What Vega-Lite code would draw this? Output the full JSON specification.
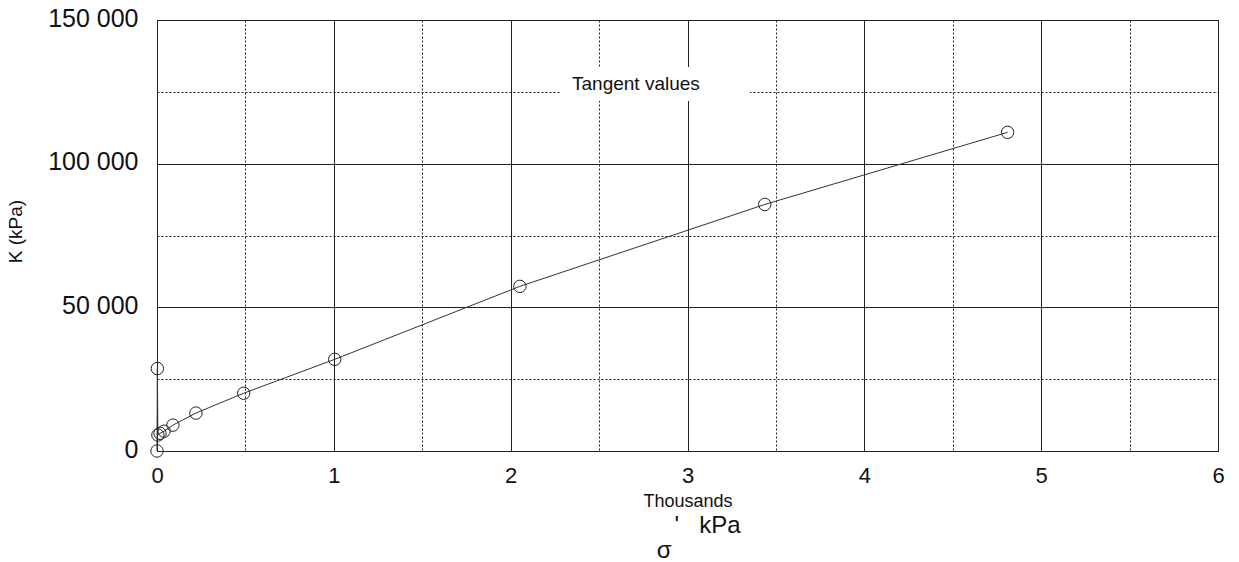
{
  "$schema": "https://vega.github.io/schema/vega-lite/v6.json",
  "width": 1061,
  "height": 431,
  "autosize": {"type": "none"},
  "padding": {"left": 157, "top": 20, "right": 21, "bottom": 111},
  "background": "white",
  "title": {
    "text": "\u200b\u00a0\u00a0\u00a0\u00a0\u00a0\u00a0'\u00a0\u00a0\u00a0kPa",
    "subtitle": "σ\u00a0\u00a0\u00a0\u00a0\u00a0\u00a0\u00a0\u200b",
    "orient": "bottom",
    "anchor": "middle",
    "frame": "group",
    "font": "Liberation Sans",
    "fontSize": 24,
    "fontWeight": "normal",
    "color": "#111",
    "subtitleFont": "Liberation Sans",
    "subtitleFontSize": 24,
    "subtitleColor": "#111",
    "subtitlePadding": 1,
    "offset": 4
  },
  "data": {
    "values": [
      {"i": 0, "s": 0.0, "k": 0},
      {"i": 1, "s": 0.002, "k": 28700},
      {"i": 2, "s": 0.005, "k": 5550},
      {"i": 3, "s": 0.017, "k": 6150},
      {"i": 4, "s": 0.04, "k": 6900},
      {"i": 5, "s": 0.09, "k": 9000},
      {"i": 6, "s": 0.22, "k": 13200},
      {"i": 7, "s": 0.49, "k": 20100},
      {"i": 8, "s": 1.005, "k": 31900},
      {"i": 9, "s": 2.052, "k": 57300},
      {"i": 10, "s": 3.437, "k": 85800},
      {"i": 11, "s": 4.81, "k": 110900}
    ]
  },
  "encoding": {
    "x": {
      "field": "s",
      "type": "quantitative",
      "scale": {"domain": [0, 6], "nice": false, "zero": false},
      "axis": {
        "title": "Thousands",
        "titleFont": "Liberation Sans",
        "titleFontSize": 18,
        "titleFontWeight": "normal",
        "titleColor": "#111",
        "titlePadding": 6,
        "values": [0, 0.5, 1, 1.5, 2, 2.5, 3, 3.5, 4, 4.5, 5, 5.5, 6],
        "labelExpr": "datum.value % 1 === 0 ? format(datum.value, 'd') : ''",
        "labelFont": "Liberation Sans",
        "labelFontSize": 22,
        "labelColor": "#111",
        "labelPadding": 14,
        "labelFlush": false,
        "labelOverlap": false,
        "ticks": false,
        "tickSize": 0,
        "domain": false,
        "grid": true,
        "gridColor": "#222",
        "gridOpacity": 1,
        "gridWidth": 1,
        "gridDash": {"condition": {"test": "datum.value % 1 !== 0", "value": [2, 2]}, "value": []}
      }
    },
    "y": {
      "field": "k",
      "type": "quantitative",
      "scale": {"domain": [0, 150000], "nice": false},
      "axis": {
        "title": "K (kPa)",
        "titleFont": "Liberation Sans",
        "titleFontSize": 19,
        "titleFontWeight": "normal",
        "titleColor": "#111",
        "titleX": -136,
        "titleY": 211,
        "titleBaseline": "alphabetic",
        "values": [0, 25000, 50000, 75000, 100000, 125000, 150000],
        "labelExpr": "datum.value % 50000 === 0 ? replace(format(datum.value, ',d'), ',', ' ') : ''",
        "labelFont": "Liberation Sans",
        "labelFontSize": 25,
        "labelColor": "#111",
        "labelPadding": 19,
        "labelOffset": -2,
        "labelFlush": false,
        "labelOverlap": false,
        "ticks": false,
        "tickSize": 0,
        "domain": false,
        "grid": true,
        "gridColor": "#222",
        "gridOpacity": 1,
        "gridWidth": 1,
        "gridDash": {"condition": {"test": "datum.value % 50000 !== 0", "value": [2, 2]}, "value": []}
      }
    }
  },
  "layer": [
    {
      "mark": {"type": "line", "strokeWidth": 1},
      "encoding": {
        "order": {"field": "i", "type": "quantitative"},
        "color": {
          "datum": "Tangent values",
          "type": "nominal",
          "scale": {"range": ["#333333"]},
          "legend": {
            "title": null,
            "orient": "none",
            "legendX": 403,
            "legendY": 47,
            "fillColor": "white",
            "strokeColor": null,
            "padding": 7,
            "symbolType": "circle",
            "symbolSize": 0,
            "symbolStrokeWidth": 0,
            "symbolOpacity": 0,
            "labelOffset": -14,
            "labelFont": "Liberation Sans",
            "labelFontSize": 19,
            "labelColor": "#111",
            "labelLimit": 400,
            "labelExpr": "datum.label + '\u00a0\u00a0\u00a0\u00a0\u00a0\u00a0\u00a0\u00a0\u200b'"
          }
        }
      }
    },
    {
      "mark": {"type": "point", "shape": "circle", "filled": false, "size": 154, "stroke": "#222", "strokeWidth": 1, "opacity": 1}
    }
  ],
  "config": {
    "view": {"stroke": "#111", "strokeWidth": 1}
  }
}
